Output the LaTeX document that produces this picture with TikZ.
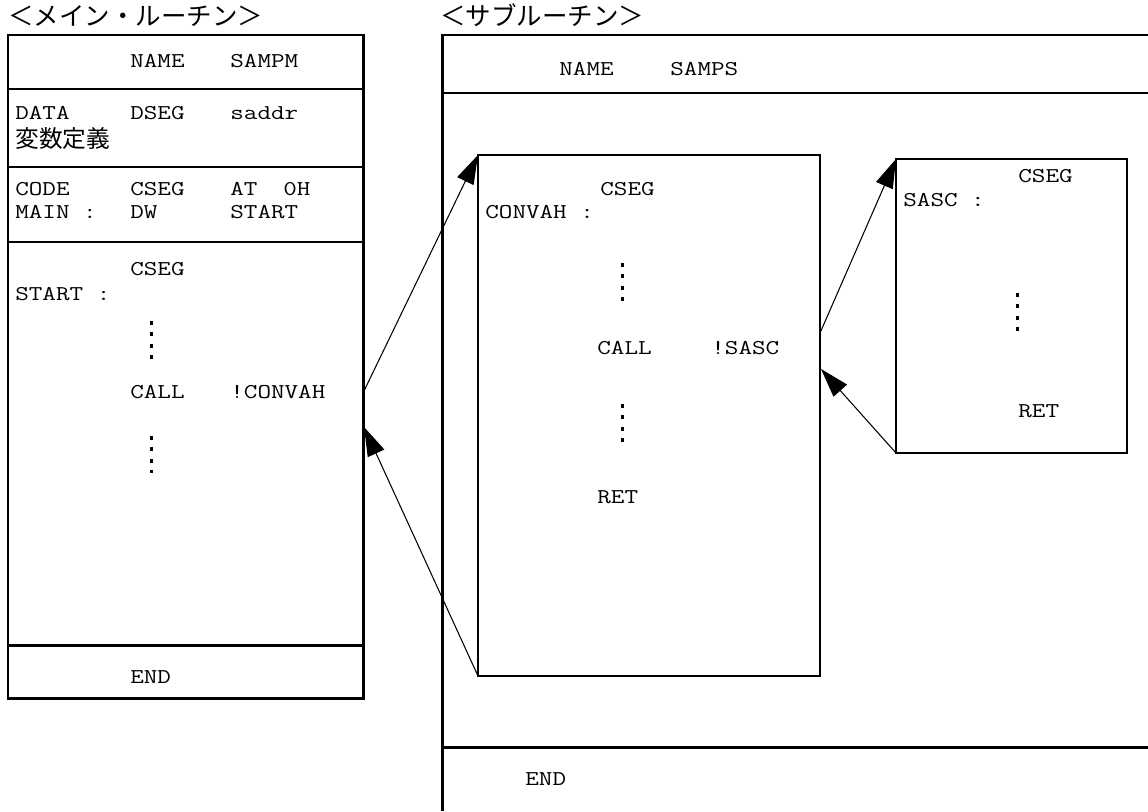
\documentclass[tikz,border=0pt]{standalone}
\usepackage{fontspec}
\newfontfamily\jpfont{Noto Sans CJK JP}
\newfontfamily\codefamily{Latin Modern Mono}[FakeStretch=1.25]
\usetikzlibrary{arrows.meta}

\tikzset{
  code/.style={anchor=base west, inner sep=0pt, font=\codefamily\fontsize{12}{14}\selectfont},
  jtext/.style={anchor=base west, inner sep=0pt, font=\jpfont\fontsize{14.5}{17}\selectfont},
  frame/.style={line width=1.7pt},
  inner/.style={line width=1.1pt},
  call/.style={-{Triangle[length=5.8mm,width=3.6mm]}, line width=0.6pt},
  dotcol/.style={line width=0.06cm, dash pattern=on 0.08cm off 0.146cm}
}

\begin{document}
\begin{tikzpicture}[x=0.02cm,y=-0.02cm]
\useasboundingbox (0,0) rectangle (1148,811);

% main routine
\node[jtext] (tmain) at (8,26) {＜メイン・ルーチン＞};
\coordinate (mTL) at (8,35);
\coordinate (mBR) at (363,698);
\draw[frame] (mTL) rectangle (mBR);
\foreach \y in {89,167,242,645} \draw[frame] (8,\y) -- (363,\y);

\node[code] (mname) at (130,68) {NAME};
\node[code] (msampm) at (230,68) {SAMPM};
\node[code] (mdata) at (15,119) {DATA};
\node[code] (mdseg) at (130,119) {DSEG};
\node[code] (msaddr) at (230,119) {saddr};
\node[jtext, font=\jpfont\fontsize{13.5}{16}\selectfont] (mvar) at (15,147) {変数定義};
\node[code] (mcode) at (15,195) {CODE};
\node[code] (mcseg) at (130,195) {CSEG};
\node[code] (mat) at (230,195) {AT};
\node[code] (m0h) at (283,195) {0H};
\node[code] (mmain) at (15,218) {MAIN :};
\node[code] (mdw) at (130,218) {DW};
\node[code] (mstart) at (230,218) {START};
\node[code] (mcseg2) at (130,275) {CSEG};
\node[code] (mstartl) at (15,300) {START :};
\draw[dotcol] (151,321) -- (151,359);
\node[code] (mcall) at (130,398) {CALL};
\node[code] (mconv) at (230,398) {!CONVAH};
\draw[dotcol] (151,436) -- (151,473);
\node[code] (mend) at (130,683) {END};

% subroutine
\node[jtext] (tsub) at (440,26) {＜サブルーチン＞};
\draw[frame] (1148,35) -- (442,35) -- (442,811);
\draw[frame] (442,93) -- (1148,93);
\draw[frame] (442,747) -- (1148,747);
\node[code] (sname) at (559,75) {NAME};
\node[code] (ssamps) at (670,75) {SAMPS};
\node[code] (send) at (525,785) {END};

\coordinate (cTL) at (478,155);
\coordinate (cBL) at (478,676);
\draw[inner] (cTL) rectangle (820,676);
\node[code] (ccseg) at (600,195) {CSEG};
\node[code] (cconv) at (485,218) {CONVAH :};
\draw[dotcol] (622,263) -- (622,301);
\node[code] (ccall) at (597,354) {CALL};
\node[code] (csasc) at (711,354) {!SASC};
\draw[dotcol] (622,404) -- (622,443);
\node[code] (cret) at (597,503) {RET};

\coordinate (aTL) at (896,159);
\coordinate (aBL) at (896,453);
\draw[inner] (aTL) rectangle (1127,453);
\node[code] (acseg) at (1018,182) {CSEG};
\node[code] (asasc) at (903,206) {SASC :};
\draw[dotcol] (1017,293) -- (1017,331);
\node[code] (aret) at (1018,417) {RET};

% calls and returns
\coordinate (mout) at (363,393);
\coordinate (mback) at (364,427);
\coordinate (cout) at (820,333);
\coordinate (cback) at (821,369);
\draw[call] (mout) -- (cTL);
\draw[call] (cBL) -- (mback);
\draw[call] (cout) -- (aTL);
\draw[call] (aBL) -- (cback);
\end{tikzpicture}
\end{document}
